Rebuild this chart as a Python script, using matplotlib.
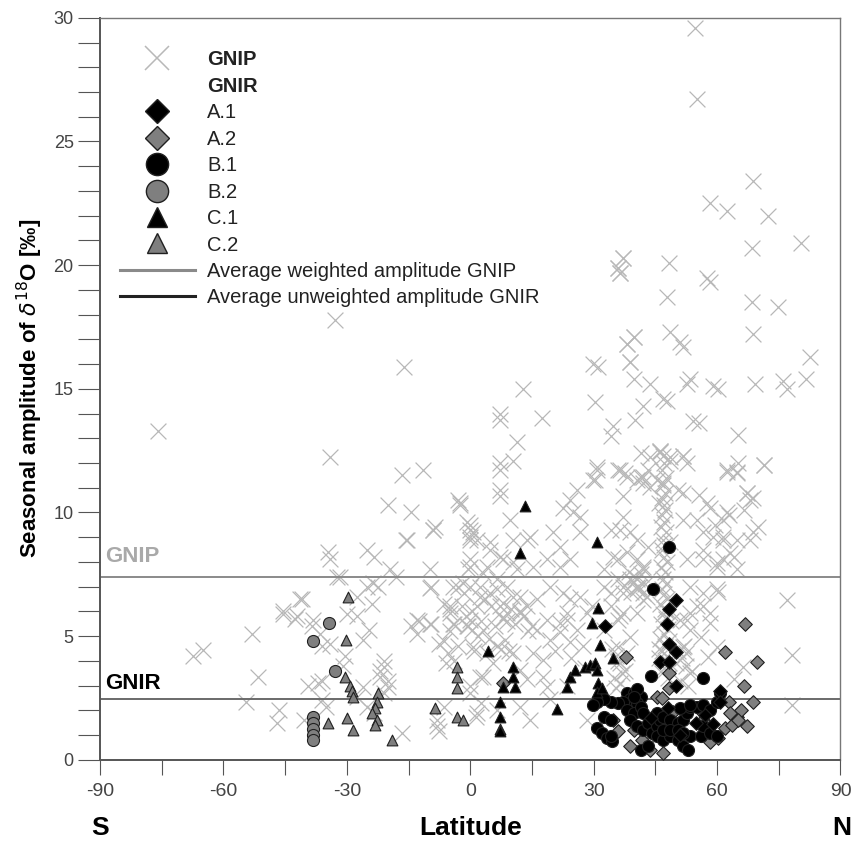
import matplotlib
matplotlib.use("Agg")
import matplotlib.pyplot as plt
from matplotlib.lines import Line2D
import numpy as np

plt.rcParams['font.family'] = ['Liberation Sans', 'DejaVu Sans']
plt.rcParams['axes.unicode_minus'] = False

# ---- GNIP stations: latitude / seasonal amplitude of d18O (permil) ----
gnip_lat = [
    # southern hemisphere and tropics
    -76, -67.5, -65, -54.5, -53, -51.5, -47, -46.5, -45.5, -42.5, -41, -40.5, -39.5, -38.5,
    -36.5, -37, -36, -36, -35, -36, -34, -34.5, -34, -32.5, -33, -34, -30.5, -31, -30,
    -27.5, -26, -26, -27.5, -25, -23.5, -25, -23.5, -22.5, -24.5, -24, -21, -22, -20, -21,
    -22, -20, -21, -19.5, -18, -20, -16, -16.5, -11.5, -14.5, -15.5, -16.5, -14.5, -13,
    -12.5, -9.5, -9, -8.5, -9.5, -8, -7.5, -6.5, -8, -6.5, -5, -5.5, -4, -4, -3, -1.5,
    -3, -2.5, -0.5, 0, 0, 0, 0.5, -0.5, 1.5, 3, 0, 2.5,
    -41.4, -38.2, -45.5, -42.1, -27.5, -12.9, -9.7, -4.1, -0.7, -4.9, -4.9, -4.1, -1.7,
    -9.7, -9.7, -23.6, -25, -31.6, -0.7, 0, -9, -15.3, -2.4,
    -6.5, -5, -3, -1, 1, 2, 4, -2, -6, 3.5, -7.5, 0.5, 2.5, 4.5,
    # 0 - 30 N
    12.9, 7.3, 7.3, 17.5, 11.4, 7.3, 10.5, 7.3, 7.3, 7.3, 0.7, 9.7, 14.6, 10.5, 4.9, 7.3,
    10.5, 20.2, 21.9, 24.3, 21.9, 26, 24.3, 22.6, 25, 26.8, 0, 3.2, 6.6, 9, 10.5, 7.3, 9,
    12.2, 4.9, 2.4, 1.7, 19.5, 22.6, 24.3, 26.8, 28.5, 23.6, 21.9, 18.7,
    1.7, 4.9, 13.9, 26.8, 0, 4.1, 8, 11.4, 15.3, 18.7, 0, 2.4, 6.6, 8, 12.2, 13.9, 16.3,
    5, 7, 9, 11, 13, 15, 6, 10, 8, 12, 14, 6.6, 8.5, 10.5, 7.5, 9.5,
    0, 3.2, 0.7, 5.6, 2.4, 0, 1.7, 6.6, 12.2, 14.6, 18.7, 19.5,
    16.3, 19.5, 21.9, 23.6, 26, 24.3, 15.3, 17.8, 12.2, 13.9, 17.8, 28.5,
    20.5, 24.5, 27.5, 29.5, 23.5, 28,
    # 30 - 45 N
    30.9, 29.9, 35.8, 38.2, 37.2, 37.2, 32.4, 34.1, 35.8, 37.2, 38.9, 40.6, 42.1, 42.1,
    40.6, 37.2, 35.8, 36.5, 38.9, 40.6, 38.2, 35.8, 40.6, 34.1, 43.1, 32.4, 34.8, 37.2,
    40.6, 42.1, 34.1, 36.5, 32.4, 35.8, 38.9,
    34.5, 35.5, 36.5, 37.5, 35, 36, 37, 38, 35.5, 36.5,
    38.5, 39.5, 40.5, 41.5, 42.5, 39, 40, 41, 42, 43,
    30.4, 42.1, 40.1, 34.8, 34.1, 30.9, 30.4, 36.5, 37.7, 41.4, 43.1, 42.1, 29.9, 31.1,
    38.9, 39.7, 43.8, 39.7, 38.2, 36.5, 37.2, 36, 41.4, 43.8, 40.6, 42.1, 43.8,
    # alpine column around 47 N
    46.8, 47.2, 46.5, 47.5, 46.9, 47.3, 46.6, 47.0, 47.4, 46.7, 47.1, 46.4, 47.6, 46.9,
    47.2, 46.5, 47.0, 47.8, 46.3, 47.3, 46.8, 47.5, 46.6, 47.1, 47.9, 46.2, 47.4, 46.9,
    47.7, 46.4, 48.0, 47.0, 46.1, 48.2, 47.3, 46.6, 47.8, 45.9, 48.4, 47.1, 46.5, 48.1,
    46.2, 45.8, 48.5, 47.5, 46.0, 48.8,
    # 45 - 90 N
    46.2, 48.6, 51.8, 52.8, 45.5, 46.9, 50.4, 51.8, 51.8, 55.2, 58.4, 61.5, 56.7, 59.1,
    61.5, 64, 61.5, 60.1, 56.7, 60.1, 62.5, 64.9, 67.4, 53.5, 56.7, 56.7, 53.5, 52.8, 58.4,
    64.9, 68.8, 57.7, 60.1, 66.4, 64, 77.1, 78.3, 78.3, 60.3, 52.8, 56.7, 60.1, 63.2, 64.9,
    61.5, 68.1, 48.6, 51.1, 55.2, 53.5, 56, 58.4, 51.8,
    50.5, 51.5, 52.5, 53.5, 51, 52, 53, 50, 52.5, 54,
    48.6, 51.1, 51.8, 68.8, 82.7, 52.8, 53.5, 59.1, 60.3, 69.3, 76.1, 77.1, 81.5, 46.9,
    47.9, 54.2, 55.5, 65.2, 46.2, 48.6, 51.8, 62.5, 64.9, 71.3, 67.4, 68.1, 68.8, 58.4,
    47.9, 68.6, 74.9, 36.5, 54.7, 55.2, 68.8, 58.4, 62.5, 72.5, 68.6, 80.3, 37.2, 36.0,
    48.2, 57.6, 39.7, 38.2, 38.9, 57.5, 62.5, 65.2, 71.3, 59.5, 63, 66.5, 70, 55.5,
]
gnip_amp = [
    13.3, 4.2, 4.45, 2.35, 5.1, 3.35, 1.5, 2.0, 5.9, 5.7, 6.5, 1.6, 3.0, 5.4,
    5.1, 3.1, 3.2, 2.4, 2.15, 4.6, 4.7, 8.4, 8.1, 7.4, 17.8, 12.25, 4.2, 3.8, 5.9,
    5.8, 4.85, 2.95, 2.55, 2.15, 1.9, 8.5, 8.2, 7.0, 5.25, 6.3, 4.0, 3.6, 3.2, 3.75,
    3.35, 2.95, 2.7, 7.7, 7.4, 10.3, 15.9, 11.5, 11.7, 10.0, 8.9, 1.1, 5.4, 5.1,
    5.6, 7.0, 9.3, 9.4, 5.5, 1.35, 1.15, 2.15, 1.6, 6.3, 6.1, 4.3, 4.0, 5.5, 7.0, 6.75,
    10.5, 10.3, 7.7, 9.3, 8.9, 9.5, 5.25, 5.4, 1.75, 3.35, 3.0, 2.3,
    6.5, 5.65, 6.0, 5.8, 6.6, 5.65, 5.5, 5.5, 5.4, 6.2, 5.95, 7.0, 7.15,
    7.7, 6.95, 7.15, 7.0, 7.4, 9.6, 9.0, 9.3, 8.9, 10.4,
    4.8, 5.2, 4.6, 5.8, 4.4, 5.0, 4.3, 6.2, 3.9, 6.5, 4.7, 6.0, 5.6, 4.9,
    15.0, 14.0, 13.75, 13.8, 12.85, 12.0, 12.1, 11.7, 10.9, 10.65, 9.2, 9.7, 9.0, 8.9, 8.5, 8.2,
    8.0, 9.2, 8.6, 8.1, 7.8, 10.9, 10.5, 10.2, 10.0, 9.8, 7.8, 7.55, 7.3, 7.0, 6.6, 6.2, 5.95,
    5.95, 6.75, 7.0, 6.2, 7.0, 6.75, 6.5, 6.6, 5.95, 5.95, 5.55, 5.65,
    8.9, 8.8, 8.9, 9.2, 8.1, 7.8, 8.1, 7.7, 7.8, 8.1, 7.0, 6.6, 6.9, 6.35, 6.6, 6.2, 6.5,
    6.2, 5.9, 5.6, 5.5, 5.8, 5.4, 5.4, 6.1, 5.7, 6.0, 5.2, 4.6, 4.85, 4.3, 4.5, 4.4,
    5.65, 5.25, 4.55, 3.9, 3.35, 2.7, 1.9, 2.0, 2.15, 1.6, 2.95, 2.45,
    5.25, 4.85, 5.15, 5.65, 5.25, 4.75, 4.3, 4.05, 3.65, 3.25, 3.35, 1.6,
    4.4, 4.1, 4.6, 6.2, 3.0, 3.7,
    11.7, 11.3, 11.7, 11.45, 10.65, 9.8, 7.0, 6.75, 7.3, 6.75, 7.3, 7.0, 6.75, 6.45,
    5.95, 5.95, 5.65, 9.3, 9.2, 8.9, 8.4, 8.1, 8.1, 9.3, 8.6, 7.7, 8.2, 7.0,
    7.3, 7.8, 6.2, 5.8, 5.25, 4.55, 4.95,
    4.5, 4.2, 3.9, 3.6, 3.3, 4.0, 3.5, 4.3, 2.9, 3.1,
    7.6, 7.2, 6.9, 7.5, 7.1, 6.8, 7.4, 7.0, 7.7, 6.6,
    14.45, 14.3, 13.75, 13.5, 13.1, 11.85, 11.3, 11.7, 11.6, 11.45, 11.7, 11.2, 16.0, 15.9,
    16.1, 15.4, 15.2, 17.1, 16.8, 19.7, 20.3, 19.9, 12.4, 12.25, 11.3, 11.45, 11.05,
    # alpine column
    12.3, 12.0, 11.7, 11.4, 11.1, 10.8, 10.6, 10.3, 10.1, 9.9, 9.6, 9.4, 9.2, 8.9,
    8.7, 8.5, 8.2, 8.0, 7.8, 7.6, 7.3, 7.1, 6.9, 6.7, 6.5, 6.3, 6.1, 5.9,
    5.7, 5.5, 5.3, 5.1, 4.9, 4.8, 4.6, 4.4, 4.2, 4.1, 3.9, 3.7, 3.5, 3.3,
    12.5, 10.4, 8.8, 6.0, 4.5, 5.6,
    12.5, 12.1, 12.3, 12.0, 11.3, 11.2, 10.9, 10.8, 9.7, 9.7, 10.2, 9.7, 9.2, 9.0,
    9.0, 8.2, 8.1, 7.8, 8.1, 6.9, 11.7, 11.6, 10.8, 7.0, 6.75, 6.2, 5.95, 5.65, 5.95,
    8.9, 9.2, 4.15, 4.55, 3.75, 3.25, 6.45, 4.25, 2.2, 6.8, 8.1, 8.5, 7.95, 8.35, 7.7,
    8.9, 8.9, 5.95, 5.65, 6.2, 5.25, 4.95, 5.55, 4.55,
    4.4, 4.1, 3.8, 3.5, 3.2, 4.6, 3.0, 3.9, 4.3, 3.6,
    17.3, 16.9, 16.7, 17.2, 16.3, 15.2, 15.4, 15.1, 15.0, 15.2, 15.3, 15.0, 15.4, 14.6,
    14.5, 13.7, 13.6, 13.15, 12.45, 12.25, 12.3, 11.65, 11.65, 11.9, 10.8, 10.5, 10.6, 19.3,
    18.7, 18.5, 18.3, 19.7, 29.6, 26.7, 23.4, 22.5, 22.2, 22.0, 20.7, 20.9, 20.3, 19.9,
    20.1, 19.5, 17.1, 16.8, 16.1, 10.4, 10.0, 12.0, 11.9, 9.5, 9.9, 10.1, 9.4, 10.7,
]

# ---- GNIR stations by type ----
a1_lat = [49.9, 48.2, 47.9, 32.8, 48.2, 49.9, 46.2, 48.2, 49.9, 60.6, 60.8, 48.0, 44.0, 51.0, 55.0, 57.0, 59.0]
a1_amp = [6.45, 6.1, 5.5, 5.4, 4.7, 4.35, 3.95, 3.95, 3.0, 2.8, 2.35, 2.1, 1.7, 1.0, 1.5, 1.8, 1.45]

a2_lat = [66.9, 62.0, 69.6, 37.9, 48.2, 66.6, 68.8, 62.8, 48.2, 45.5, 46.7, 8.0, 34.8, 36.0, 38.9,
          39.7, 41.8, 43.8, 46.9, 49.4, 56.7, 57.9, 58.4, 60.3, 62.0, 63.7, 64.9, 65.7, 67.4, 65.2,
          56.4, 63.2]
a2_amp = [5.5, 4.35, 3.95, 4.15, 3.5, 3.0, 2.35, 2.35, 2.9, 2.55, 2.5, 3.1, 1.6, 1.15, 0.55,
          1.2, 0.8, 0.4, 0.28, 1.95, 1.6, 1.35, 0.7, 0.9, 1.3, 1.4, 1.75, 2.0, 1.35, 1.6,
          1.95, 1.9]

b1_lat = [48.2, 44.5, 44.0, 56.7,
          38.2, 39.7, 41.4, 38.9, 40.6, 37.2, 35.8, 34.1, 32.4, 30.9, 29.9,
          32.4, 34.1, 38.2, 39.7, 41.4, 42.1,
          30.9, 32.1, 33.3, 34.5, 34.1,
          38.9, 40.6, 42.1, 43.1, 44.3, 45.5, 46.2, 45.5, 46.9, 48.6, 50.4, 51.8, 52.8, 53.5,
          55.2, 56.7, 58.4, 60.1, 60.8,
          41.4, 43.1, 45.5, 46.9, 48.6, 50.4, 51.8, 53.0, 53.5, 56.0, 56.7, 58.4, 60.1, 46.9,
          48.6, 50.4, 51.8, 40.6, 39.7, 51.1, 53.5]
b1_amp = [8.6, 6.9, 3.4, 3.3,
          2.7, 2.7, 2.55, 2.45, 2.3, 2.35, 2.3, 2.35, 2.45, 2.35, 2.2,
          1.75, 1.6, 2.0, 1.9, 2.15, 1.9,
          1.3, 1.1, 0.9, 0.75, 0.95,
          1.6, 1.35, 1.2, 1.5, 1.1, 1.35, 1.6, 1.9, 1.75, 1.6, 1.5, 1.6, 1.9, 2.15,
          2.15, 2.2, 2.0, 2.35, 2.7,
          0.4, 0.55, 0.95, 0.8, 0.95, 0.8, 0.55, 0.4, 0.95, 0.95, 1.35, 1.1, 0.95, 1.2,
          1.2, 1.2, 1.1, 2.85, 2.55, 2.1, 2.2]

b2_lat = [-34.3, -38.2, -32.8, -38.2, -38.2, -38.2, -38.2, -38.2]
b2_amp = [5.55, 4.8, 3.6, 1.75, 1.5, 1.25, 1.0, 0.8]

c1_lat = [13.4, 12.2, 30.9, 31.1, 29.7, 31.6, 34.8, 4.4, 10.5, 10.5, 10.9, 8.0, 7.3, 7.3, 7.3,
          21.2, 23.6, 24.3, 25.5, 28.0, 29.2, 30.4, 30.9, 31.1, 30.9, 32.1]
c1_amp = [10.25, 8.35, 8.8, 6.15, 5.55, 4.65, 4.1, 4.4, 3.75, 3.35, 2.95, 2.95, 2.35, 1.75, 1.15,
          2.05, 2.95, 3.35, 3.65, 3.75, 3.85, 3.9, 3.65, 3.1, 2.75, 2.9]

c2_lat = [-29.7, -30.2, -30.4, -29.2, -28.7, -28.5, -29.9, -28.5, -34.5,
          -22.4, -22.6, -23.1, -23.8, -22.6, -23.1, -19.0, -8.5,
          -3.2, -3.2, -3.2, -3.2, -1.7, 7.3]
c2_amp = [6.6, 4.85, 3.35, 3.0, 2.8, 2.55, 1.7, 1.2, 1.5,
          2.7, 2.35, 2.1, 1.9, 1.6, 1.4, 0.8, 2.1,
          3.75, 3.35, 2.9, 1.75, 1.6, 1.25]

avg_gnip = 7.4
avg_gnir = 2.45

CROSS = '#b8b8b8'
MID = '#7f7f7f'

fig = plt.figure(figsize=(8.55, 8.48), dpi=100)
ax = fig.add_axes([0.117, 0.104, 0.866, 0.875])

ax.scatter(gnip_lat, gnip_amp, marker='x', s=130, c=CROSS, linewidths=0.9, zorder=1)
ax.axhline(avg_gnip, color='#8a8a8a', lw=1.4, zorder=2)
ax.axhline(avg_gnir, color='#6a6a6a', lw=1.4, zorder=2)

kw = dict(edgecolors='#202020', linewidths=0.8, zorder=3)
ax.scatter(a2_lat, a2_amp, marker='D', s=48, c=MID, **kw)
ax.scatter(b2_lat, b2_amp, marker='o', s=75, c=MID, **kw)
ax.scatter(c2_lat, c2_amp, marker='^', s=60, c=MID, **kw)
ax.scatter(b1_lat, b1_amp, marker='o', s=75, c='black', **kw)
ax.scatter(a1_lat, a1_amp, marker='D', s=48, c='black', **kw)
ax.scatter(c1_lat, c1_amp, marker='^', s=60, c='black', **kw)

ax.text(-88.8, 8.2, 'GNIP', color='#a9a9a9', fontsize=16, fontweight='bold', va='center')
ax.text(-88.8, 3.1, 'GNIR', color='black', fontsize=16, fontweight='bold', va='center')

ax.set_xlim(-90, 90)
ax.set_ylim(0, 30)
ax.set_xticks(np.arange(-90, 91, 30))
ax.set_xticks(np.arange(-90, 91, 15), minor=True)
ax.set_yticks(np.arange(0, 31, 5))
ax.set_yticks(np.arange(0, 31, 1), minor=True)
ax.tick_params(axis='y', which='both', length=16, width=0.8, color='#555555',
               labelsize=13, labelcolor='#444444', pad=3)
ax.tick_params(axis='x', which='both', length=11, width=0.8, color='#555555',
               labelsize=14, labelcolor='#444444', pad=6)
for lab in ax.get_xticklabels():
    lab.set_family(['Liberation Sans Narrow', 'Liberation Sans'])
for sp in ax.spines.values():
    sp.set_color('#777777')
    sp.set_linewidth(1.0)
ax.spines['left'].set_color('#555555')
ax.spines['left'].set_linewidth(1.4)
ax.spines['bottom'].set_color('#555555')
ax.spines['bottom'].set_linewidth(1.4)

ax.set_ylabel(r'Seasonal amplitude of $\delta^{18}$O [‰]', fontsize=16, fontweight='bold', labelpad=6)
ax.set_xlabel('Latitude', fontsize=19, fontweight='bold', va='center')
ax.xaxis.set_label_coords(0.5, -0.0916)
ax.text(-90, -2.75, 'S', ha='center', va='center', fontsize=19, fontweight='bold')
ax.text(90.4, -2.75, 'N', ha='center', va='center', fontsize=19, fontweight='bold')

handles = [
    Line2D([], [], ls='none', marker='x', ms=17, mec=CROSS, mew=1.1),
    Line2D([], [], ls='none'),
    Line2D([], [], ls='none', marker='D', ms=12, mfc='black', mec='#202020'),
    Line2D([], [], ls='none', marker='D', ms=12, mfc=MID, mec='#202020'),
    Line2D([], [], ls='none', marker='o', ms=16, mfc='black', mec='#202020'),
    Line2D([], [], ls='none', marker='o', ms=16, mfc=MID, mec='#202020'),
    Line2D([], [], ls='none', marker='^', ms=14, mfc='black', mec='#202020'),
    Line2D([], [], ls='none', marker='^', ms=14, mfc=MID, mec='#202020'),
    Line2D([], [], color='#8a8a8a', lw=2.2),
    Line2D([], [], color='#222222', lw=2.2),
]
labels = ['GNIP', 'GNIR', 'A.1', 'A.2', 'B.1', 'B.2', 'C.1', 'C.2',
          'Average weighted amplitude GNIP', 'Average unweighted amplitude GNIR']
leg = ax.legend(handles, labels, loc='upper left', bbox_to_anchor=(0.016, 0.967), frameon=False,
                fontsize=14.5, handlelength=3.73, handletextpad=0.6, labelspacing=0.37,
                borderaxespad=0.0)
for t in leg.get_texts()[:2]:
    t.set_fontweight('bold')
for t in leg.get_texts():
    t.set_color('#222222')

fig.savefig('out.png', dpi=100)
